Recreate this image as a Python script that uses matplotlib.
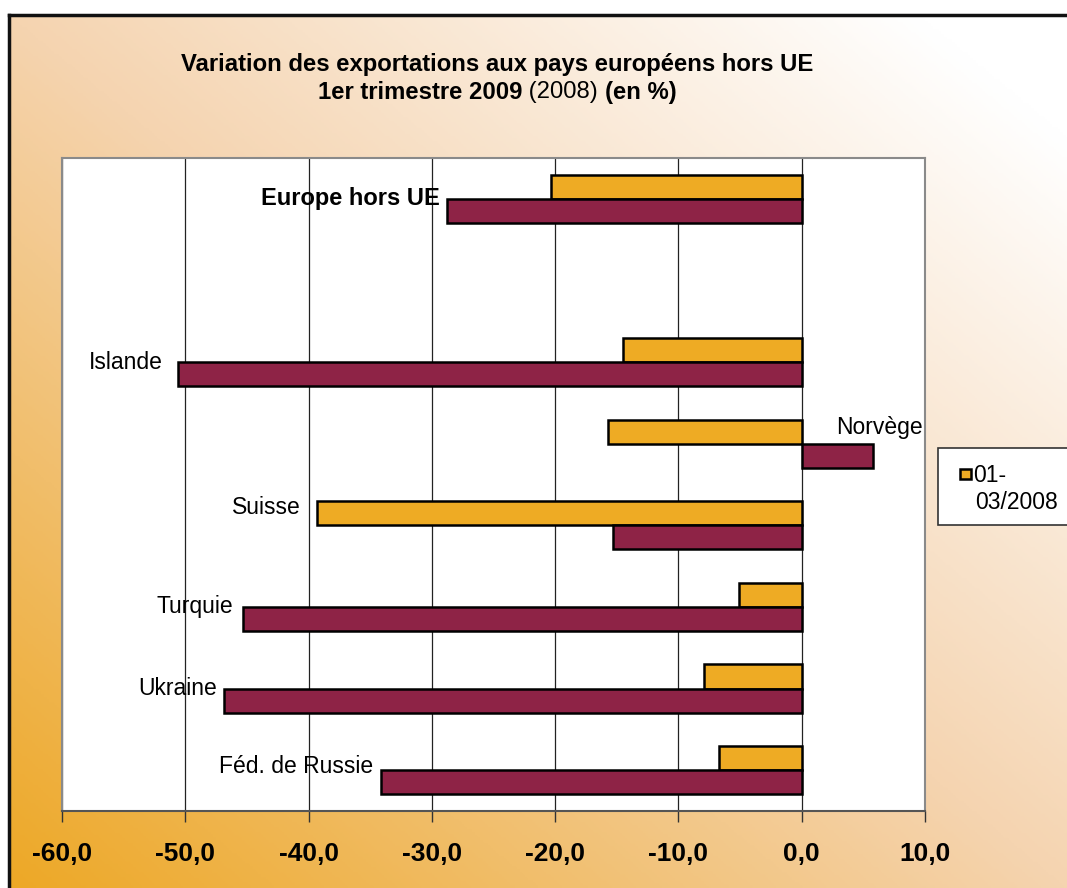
import numpy as np
import matplotlib
matplotlib.use("Agg")
import matplotlib.pyplot as plt
from matplotlib.patches import Rectangle
from matplotlib.colors import LinearSegmentedColormap

plt.rcParams['font.family'] = ['Liberation Sans', 'DejaVu Sans']

# ---- data ----
categories = ["Féd. de Russie", "Ukraine", "Turquie", "Suisse", "Norvège", "Islande", "", "Europe hors UE"]
val_2008 = [-6.7, -7.9, -5.1, -39.3, -15.7, -14.5, np.nan, -20.3]
val_2009 = [-34.1, -46.9, -45.3, -15.3, 5.8, -50.6, np.nan, -28.8]
xticks = [-60, -50, -40, -30, -20, -10, 0, 10]
xtick_labels = ["-60,0", "-50,0", "-40,0", "-30,0", "-20,0", "-10,0", "0,0", "10,0"]
legend_label = "01-\n03/2008"

W, H = 1067, 888
fig = plt.figure(figsize=(W / 100, H / 100), dpi=100)
fig.patch.set_facecolor("white")

# ---- gradient background (frame) ----
fx0, fy_top = 9 / W, 1 - 15 / H
bg = fig.add_axes([fx0, 0, 1 - fx0, fy_top], zorder=-10)
nx, ny = 400, 330
u = np.linspace(0, 1, nx)[None, :]
v = np.linspace(1, 0, ny)[:, None]
s = (u + v) / 2
cmap = LinearSegmentedColormap.from_list(
    "g", [(0.0, (237/255, 168/255, 38/255)),
          (0.5, (245/255, 212/255, 176/255)),
          (0.93, (1, 1, 1)),
          (1.0, (1, 1, 1))])
bg.imshow(s, cmap=cmap, aspect="auto", extent=[0, 1, 0, 1], vmin=0, vmax=1)
bg.set_xlim(0, 1)
bg.set_ylim(0, 1)
bg.set_xticks([])
bg.set_yticks([])
for sp in ["right", "bottom"]:
    bg.spines[sp].set_visible(False)
for sp in ["left", "top"]:
    bg.spines[sp].set_linewidth(2.5)
    bg.spines[sp].set_color("#111111")

# ---- main axes ----
left, right, top, bottom = 62, 925, 158, 811
ax = fig.add_axes([left / W, 1 - bottom / H, (right - left) / W, (bottom - top) / H])
ax.set_facecolor("white")

y = np.arange(len(categories))
h = 0.295
c08 = "#EEAB24"
c09 = "#8E2346"
ax.barh(y + h / 2, val_2008, height=h, color=c08, edgecolor="black", linewidth=1.8,
        label="01-03/2008", zorder=3)
ax.barh(y - h / 2, val_2009, height=h, color=c09, edgecolor="black", linewidth=1.8,
        label="01-03/2009", zorder=3)

ax.set_xlim(-60, 10)
ax.set_ylim(-0.5, len(categories) - 0.5)
ax.set_xticks(xticks)
ax.set_xticklabels(xtick_labels, fontsize=19, fontweight="bold")
ax.set_yticks([])
ax.tick_params(axis="x", direction="out", length=8, width=1, color="#333333", pad=14)
ax.grid(axis="x", color="#222222", linewidth=0.9, zorder=0)
for sp in ["left", "top", "right"]:
    ax.spines[sp].set_color("#8a8a8a")
    ax.spines[sp].set_linewidth(1.5)
ax.spines["bottom"].set_color("#555555")
ax.spines["bottom"].set_linewidth(1.5)

# category labels placed next to bars
label_pos = {
    "Féd. de Russie": (-34.8, 0.05, "right"),
    "Ukraine": (-47.4, 0.0, "right"),
    "Turquie": (-46.1, 0.0, "right"),
    "Suisse": (-40.6, 0.22, "right"),
    "Norvège": (2.8, 0.2, "left"),
    "Islande": (-51.8, 0.0, "right"),
}
for i, cat in enumerate(categories):
    if cat in label_pos:
        xx, dy, ha = label_pos[cat]
        ax.text(xx, i + dy, cat, ha=ha, va="center", fontsize=16.5, color="black", zorder=5)
ax.text(-29.4, 7.0, "Europe hors UE", ha="right", va="center", fontsize=17,
        fontweight="bold", color="black", zorder=5)

# ---- title ----
tfs = 17.2
fig.text(497 / W, 1 - 64 / H, "Variation des exportations aux pays européens hors UE",
         ha="center", va="center", fontsize=tfs, fontweight="bold")
r = fig.canvas.get_renderer()
parts = [("1er trimestre 2009", "bold"), (" (2008) ", "normal"), ("(en %)", "bold")]
texts = [fig.text(0, 1 - 92 / H, p, ha="left", va="center", fontsize=tfs, fontweight=w)
         for p, w in parts]
widths = [t.get_window_extent(renderer=r).width for t in texts]
x0 = 497 - sum(widths) / 2
for t, wdt in zip(texts, widths):
    t.set_x(x0 / W)
    x0 += wdt

# ---- legend (only first series shown, as in original) ----
fig.patches.append(Rectangle((938 / W, 1 - 525 / H), 200 / W, 77 / H, transform=fig.transFigure,
                             facecolor="white", edgecolor="#333333", linewidth=1.2, zorder=5))
fig.patches.append(Rectangle((960 / W, 1 - 479 / H), 11 / W, 10 / H, transform=fig.transFigure,
                             facecolor=c08, edgecolor="black", linewidth=1.8, zorder=6))
fig.text(973 / W, 1 - 475 / H, "01-", ha="left", va="center", fontsize=16.5, zorder=7)
fig.text(975 / W, 1 - 502 / H, "03/2008", ha="left", va="center", fontsize=16.5, zorder=7)

fig.savefig("out.png", dpi=100, facecolor=fig.get_facecolor())
